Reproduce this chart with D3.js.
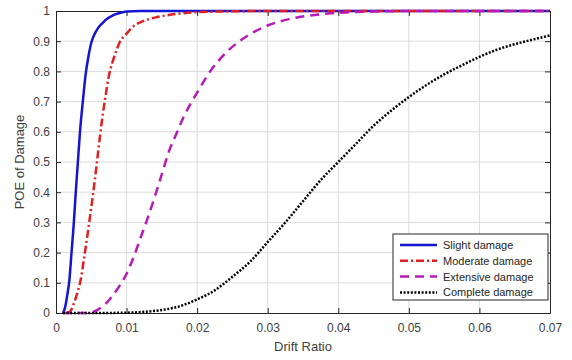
<!DOCTYPE html>
<html>
<head>
<meta charset="utf-8">
<script src="https://cdn.jsdelivr.net/npm/d3@7"></script>
<style>
  body { margin: 0; background: #fff; }
  svg { font-family: "Liberation Sans", Arial, sans-serif; }
</style>
</head>
<body>
<div id="chart"></div>
<script>
// values
const slightX   = [0.001, 0.0013, 0.0016, 0.0019, 0.0022, 0.0025, 0.0028, 0.0031, 0.0034, 0.0038, 0.0042, 0.0046, 0.005, 0.0055, 0.006, 0.0065, 0.007, 0.008, 0.009, 0.01, 0.012, 0.02, 0.07];
const slightY   = [0, 0.02, 0.06, 0.11, 0.2, 0.29, 0.4, 0.5, 0.6, 0.7, 0.79, 0.85, 0.895, 0.925, 0.945, 0.958, 0.97, 0.985, 0.993, 0.998, 1, 1, 1];

const moderateX = [0.0015, 0.002, 0.0025, 0.003, 0.0035, 0.004, 0.0045, 0.005, 0.0055, 0.006, 0.0065, 0.007, 0.0075, 0.008, 0.0085, 0.009, 0.01, 0.011, 0.012, 0.013, 0.014, 0.015, 0.017, 0.02, 0.025, 0.03, 0.07];
const moderateY = [0, 0.005, 0.03, 0.065, 0.11, 0.185, 0.265, 0.35, 0.44, 0.54, 0.635, 0.715, 0.786, 0.83, 0.865, 0.895, 0.925, 0.95, 0.963, 0.972, 0.978, 0.983, 0.99, 0.996, 0.999, 1, 1];

const extensiveX = [0.001, 0.004, 0.005, 0.006, 0.007, 0.008, 0.009, 0.01, 0.011, 0.012, 0.013, 0.014, 0.015, 0.016, 0.017, 0.018, 0.019, 0.02, 0.022, 0.024, 0.026, 0.028, 0.03, 0.033, 0.036, 0.04, 0.045, 0.05, 0.07];
const extensiveY = [0, 0, 0.002, 0.012, 0.03, 0.057, 0.09, 0.13, 0.185, 0.25, 0.315, 0.385, 0.46, 0.535, 0.59, 0.645, 0.69, 0.73, 0.805, 0.86, 0.9, 0.93, 0.952, 0.973, 0.985, 0.994, 0.998, 1, 1];

const completeX = [0.001, 0.005, 0.01, 0.0125, 0.015, 0.0175, 0.02, 0.0225, 0.025, 0.0275, 0.03, 0.0325, 0.035, 0.0375, 0.04, 0.0425, 0.045, 0.0475, 0.05, 0.0525, 0.055, 0.0575, 0.06, 0.0625, 0.065, 0.0675, 0.07];
const completeY = [0, 0, 0.001, 0.004, 0.01, 0.022, 0.045, 0.075, 0.12, 0.17, 0.235, 0.3, 0.37, 0.44, 0.5, 0.56, 0.62, 0.67, 0.715, 0.755, 0.79, 0.82, 0.848, 0.872, 0.89, 0.905, 0.919];

const legendNames = ["Slight damage", "Moderate damage", "Extensive damage", "Complete damage"];
const xTicks = [0, 0.01, 0.02, 0.03, 0.04, 0.05, 0.06, 0.07];
const yTicks = [0, 0.1, 0.2, 0.3, 0.4, 0.5, 0.6, 0.7, 0.8, 0.9, 1];

const series = [
  {name: legendNames[0], xs: slightX, ys: slightY, color: "#1414d4", dash: null},
  {name: legendNames[1], xs: moderateX, ys: moderateY, color: "#e02020", dash: "8,3,2,3"},
  {name: legendNames[2], xs: extensiveX, ys: extensiveY, color: "#b81ab8", dash: "9,6"},
  {name: legendNames[3], xs: completeX, ys: completeY, color: "#000000", dash: "2,1.6"}
];

const W = 572, H = 360;
const margin = {top: 11, right: 22, bottom: 47, left: 56};
const iw = W - margin.left - margin.right;
const ih = H - margin.top - margin.bottom;
const axisColor = "#262626";

const svg = d3.select("#chart").append("svg")
  .attr("width", W)
  .attr("height", H);

const g = svg.append("g")
  .attr("transform", `translate(${margin.left},${margin.top})`);

const x = d3.scaleLinear().domain([0, 0.07]).range([0, iw]);
const y = d3.scaleLinear().domain([0, 1]).range([ih, 0]);

// grid
g.append("g").selectAll("line")
  .data(xTicks.slice(1, -1))
  .enter().append("line")
  .attr("x1", d => x(d)).attr("x2", d => x(d))
  .attr("y1", 0).attr("y2", ih)
  .attr("stroke", "#dcdcdc").attr("stroke-width", 1);

g.append("g").selectAll("line")
  .data(yTicks.slice(1, -1))
  .enter().append("line")
  .attr("x1", 0).attr("x2", iw)
  .attr("y1", d => y(d)).attr("y2", d => y(d))
  .attr("stroke", "#dcdcdc").attr("stroke-width", 1);

// axes, ticks pointing inward, on all four sides
const fmt = d => d === 0 ? "0" : d3.format("~g")(d);

const xAxis = g.append("g").attr("transform", `translate(0,${ih})`)
  .call(d3.axisBottom(x).tickValues(xTicks).tickFormat(fmt).tickSizeInner(-5).tickSizeOuter(0).tickPadding(10));
const xTop = g.append("g")
  .call(d3.axisTop(x).tickValues(xTicks).tickFormat("").tickSizeInner(-5).tickSizeOuter(0));
const yAxis = g.append("g")
  .call(d3.axisLeft(y).tickValues(yTicks).tickFormat(fmt).tickSizeInner(-5).tickSizeOuter(0).tickPadding(6));
const yRight = g.append("g").attr("transform", `translate(${iw},0)`)
  .call(d3.axisRight(y).tickValues(yTicks).tickFormat("").tickSizeInner(-5).tickSizeOuter(0));

[xAxis, xTop, yAxis, yRight].forEach(a => {
  a.selectAll(".domain").attr("stroke", axisColor).attr("stroke-width", 1);
  a.selectAll(".tick line").attr("stroke", axisColor);
  a.selectAll(".tick text").attr("fill", "#404040").style("font-size", "12px");
});

// curves
const line = d3.line()
  .x(d => x(d[0]))
  .y(d => y(d[1]))
  .curve(d3.curveMonotoneX);

series.forEach(s => {
  g.append("path")
    .datum(d3.zip(s.xs, s.ys))
    .attr("d", line)
    .attr("fill", "none")
    .attr("stroke", s.color)
    .attr("stroke-width", 2.5)
    .attr("stroke-dasharray", s.dash);
});

// axis labels
svg.append("text")
  .attr("x", margin.left + iw / 2).attr("y", 351)
  .attr("text-anchor", "middle")
  .attr("fill", "#404040")
  .style("font-size", "13px")
  .text("Drift Ratio");

svg.append("text")
  .attr("transform", `translate(24,${margin.top + ih / 2}) rotate(-90)`)
  .attr("text-anchor", "middle")
  .attr("fill", "#404040")
  .style("font-size", "13px")
  .text("POE of Damage");

// legend
const lg = svg.append("g").attr("transform", "translate(393,234)");
lg.append("rect")
  .attr("width", 155).attr("height", 66)
  .attr("fill", "#fff").attr("stroke", axisColor).attr("stroke-width", 1);

series.forEach((s, i) => {
  const ry = 11 + i * 15.8;
  lg.append("line")
    .attr("x1", 7).attr("x2", 44)
    .attr("y1", ry).attr("y2", ry)
    .attr("stroke", s.color)
    .attr("stroke-width", 2.5)
    .attr("stroke-dasharray", s.dash);
  lg.append("text")
    .attr("x", 50).attr("y", ry + 4)
    .attr("fill", "#262626")
    .style("font-size", "11px")
    .text(s.name);
});
</script>
</body>
</html>
